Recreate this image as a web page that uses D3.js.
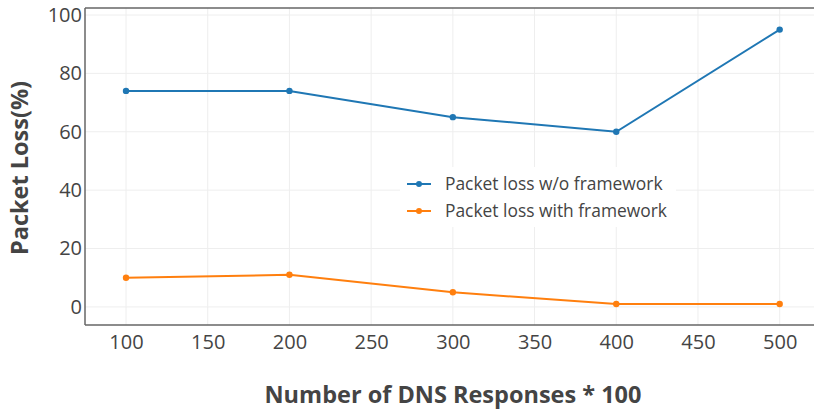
<!DOCTYPE html>
<html><head><meta charset="utf-8">
<script src="https://cdn.jsdelivr.net/npm/d3@7"></script>
<style>body{margin:0;background:#fff}</style>
</head><body><svg id="c" width="814" height="411"></svg>
<script>
const xValues = [100, 200, 300, 400, 500];
const seriesNames = ["Packet loss w/o framework", "Packet loss with framework"];
const withoutFramework = [74, 74, 65, 60, 95];
const withFramework = [10, 11, 5, 1, 1];
const xTicks = [100, 150, 200, 250, 300, 350, 400, 450, 500];
const yTicks = [0, 20, 40, 60, 80, 100];
const colors = ["#1f77b4", "#ff7f0e"];

const svg = d3.select("#c");
const L = 85, R = 814, T = 8, B = 325;
const x = d3.scaleLinear().domain([74.9, 521]).range([L, R]);
const y = d3.scaleLinear().domain([-6.2, 102.4]).range([B, T]);
const font = "'Open Sans', sans-serif";

// grid
svg.append("g").selectAll("line").data(xTicks).join("line")
  .attr("x1", d => x(d)).attr("x2", d => x(d)).attr("y1", T).attr("y2", B)
  .attr("stroke", "#eee").attr("stroke-width", 1);
svg.append("g").selectAll("line").data(yTicks).join("line")
  .attr("x1", L).attr("x2", R).attr("y1", d => y(d)).attr("y2", d => y(d))
  .attr("stroke", "#eee").attr("stroke-width", 1);

// axes
const xa = svg.append("g").attr("transform", `translate(0,${B})`)
  .call(d3.axisBottom(x).tickValues(xTicks).tickSize(0).tickPadding(10));
const ya = svg.append("g").attr("transform", `translate(${L},0)`)
  .call(d3.axisLeft(y).tickValues(yTicks).tickSize(0).tickPadding(3));
[xa, ya].forEach(a => {
  a.select(".domain").remove();
  a.selectAll("text").attr("font-family", font).attr("font-size", 20).attr("fill", "#444");
});
// frame lines
svg.append("line").attr("x1", L).attr("x2", L).attr("y1", T).attr("y2", B).attr("stroke", "#666").attr("stroke-width", 1.5);
svg.append("line").attr("x1", L).attr("x2", R).attr("y1", B).attr("y2", B).attr("stroke", "#666").attr("stroke-width", 1.5);
svg.append("line").attr("x1", L).attr("x2", R).attr("y1", T).attr("y2", T).attr("stroke", "#666").attr("stroke-width", 1.5);

// lines
const series = [withoutFramework, withFramework];
const line = d3.line().x((d, i) => x(xValues[i])).y(d => y(d));
series.forEach((s, k) => {
  svg.append("path").datum(s).attr("d", line).attr("fill", "none")
    .attr("stroke", colors[k]).attr("stroke-width", 2);
  svg.append("g").selectAll("circle").data(s).join("circle")
    .attr("cx", (d, i) => x(xValues[i])).attr("cy", d => y(d)).attr("r", 3.2)
    .attr("fill", colors[k]);
});

// legend
const lg = svg.append("g").attr("transform", "translate(400,167)");
lg.append("rect").attr("width", 276).attr("height", 60).attr("fill", "#fff");
seriesNames.forEach((n, i) => {
  const yy = 17 + i * 27;
  lg.append("line").attr("x1", 7).attr("x2", 31).attr("y1", yy).attr("y2", yy)
    .attr("stroke", colors[i]).attr("stroke-width", 2);
  lg.append("circle").attr("cx", 19).attr("cy", yy).attr("r", 3).attr("fill", colors[i]);
  lg.append("text").attr("x", 45).attr("y", yy).attr("dy", "0.35em")
    .attr("font-family", font).attr("font-size", 17.4).attr("fill", "#444").text(n);
});

// titles
svg.append("text").attr("x", 453).attr("y", 403).attr("text-anchor", "middle")
  .attr("font-family", font).attr("font-size", 23.5).attr("font-weight", "bold").attr("fill", "#444")
  .text("Number of DNS Responses * 100");
svg.append("text").attr("transform", "translate(28,168) rotate(-90)").attr("text-anchor", "middle")
  .attr("font-family", font).attr("font-size", 23.5).attr("font-weight", "bold").attr("fill", "#444")
  .text("Packet Loss(%)");
</script></body></html>
